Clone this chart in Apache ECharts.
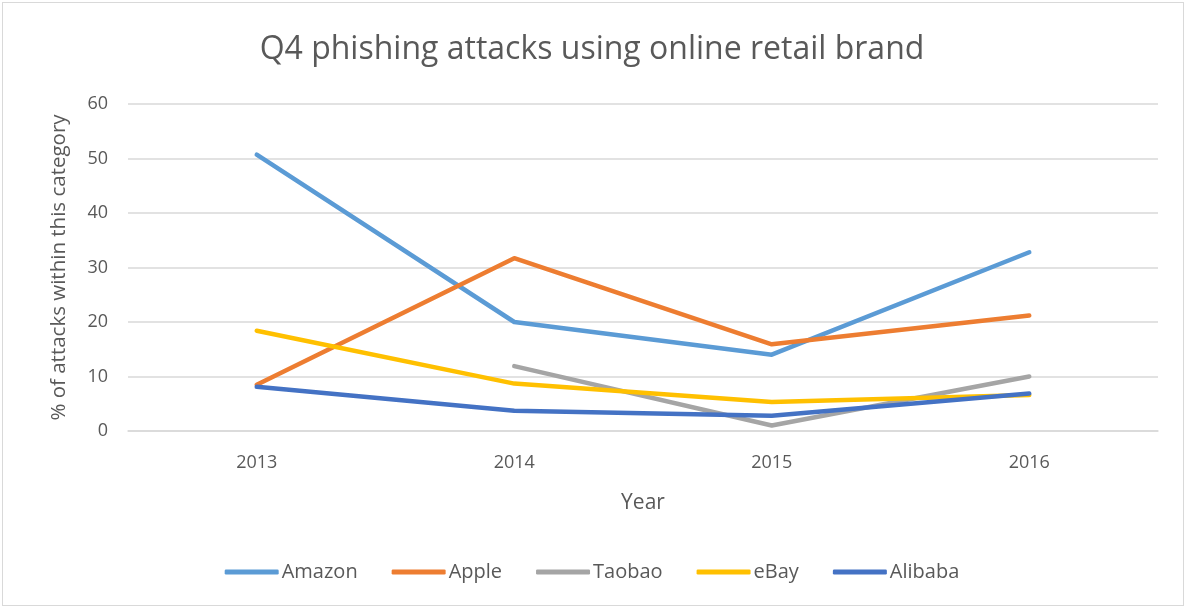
<!DOCTYPE html>
<html>
<head>
<meta charset="utf-8">
<script src="https://cdn.jsdelivr.net/npm/echarts@6/dist/echarts.min.js"></script>
<style>
html,body{margin:0;padding:0;background:#fff;}
#frame{position:absolute;left:2px;top:2px;width:1182px;height:604px;border:1px solid #D9D9D9;box-sizing:border-box;}
#chart{width:1184px;height:606px;}
</style>
</head>
<body>
<div id="chart"></div>
<div id="frame"></div>
<script>
const years = ['2013', '2014', '2015', '2016'];
const amazon = [50.7, 20.0, 14.0, 32.8];
const apple = [8.5, 31.7, 15.9, 21.2];
const taobao = [null, 11.9, 1.0, 10.0];
const ebay = [18.4, 8.7, 5.3, 6.6];
const alibaba = [8.1, 3.7, 2.8, 6.9];
const seriesNames = ['Amazon', 'Apple', 'Taobao', 'eBay', 'Alibaba'];
const seriesData = [amazon, apple, taobao, ebay, alibaba];
const colors = ['#5B9BD5', '#ED7D31', '#A5A5A5', '#FFC000', '#4472C4'];

const chart = echarts.init(document.getElementById('chart'));
const font = 'Open Sans';
chart.setOption({
  backgroundColor: '#fff',
  color: colors,
  title: {
    text: 'Q4 phishing attacks using online retail brand',
    left: 'center',
    top: 29,
    textStyle: {fontFamily: font, fontSize: 32, fontWeight: 'normal', color: '#595959'}
  },
  legend: {
    data: seriesNames,
    bottom: 19,
    left: 'center',
    icon: 'roundRect',
    itemWidth: 54,
    itemHeight: 5,
    itemGap: 34,
    textStyle: {fontFamily: font, fontSize: 20, color: '#595959', padding: [0,0,0,-2]}
  },
  grid: {left: 128, right: 26, top: 104, bottom: 175},
  xAxis: {
    type: 'category',
    data: years,
    boundaryGap: true,
    name: 'Year',
    nameLocation: 'middle',
    nameGap: 62,
    nameTextStyle: {fontFamily: font, fontSize: 21, color: '#595959'},
    axisLine: {lineStyle: {color: '#D9D9D9', width: 1.5}},
    axisTick: {show: false},
    axisLabel: {fontFamily: font, fontSize: 18, color: '#595959', margin: 23}
  },
  yAxis: {
    type: 'value',
    min: 0, max: 60, interval: 10,
    name: '% of attacks within this category',
    nameLocation: 'middle',
    nameGap: 58,
    nameTextStyle: {fontFamily: font, fontSize: 20.5, color: '#595959'},
    axisLine: {show: false},
    axisTick: {show: false},
    axisLabel: {fontFamily: font, fontSize: 18, color: '#595959', margin: 20},
    splitLine: {lineStyle: {color: '#D9D9D9', width: 1.5}}
  },
  series: seriesNames.map((n, i) => ({
    name: n,
    type: 'line',
    data: seriesData[i],
    showSymbol: false,
    symbol: 'none',
    connectNulls: false,
    lineStyle: {width: 4.5, cap: 'round', join: 'round'},
    animation: false
  }))
});
</script>
</body>
</html>
